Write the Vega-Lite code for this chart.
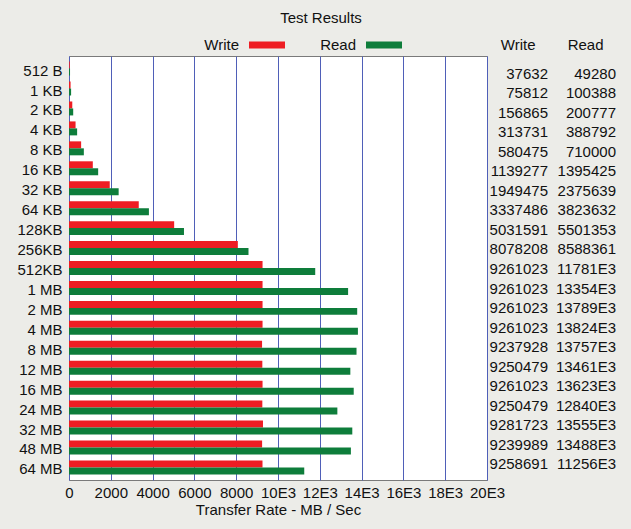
{
  "$schema": "https://vega.github.io/schema/vega-lite/v6.json",
  "background": "#ECECE8",
  "padding": {"left": 16, "top": 10, "right": 15, "bottom": 14},
  "autosize": {"type": "pad"},
  "bounds": "flush",
  "spacing": 61,
  "data": {"values": [
    {"size": "512 B", "series": "Write", "rate": 37.632, "label": "37632"},
    {"size": "512 B", "series": "Read", "rate": 49.28, "label": "49280"},
    {"size": "1 KB", "series": "Write", "rate": 75.812, "label": "75812"},
    {"size": "1 KB", "series": "Read", "rate": 100.388, "label": "100388"},
    {"size": "2 KB", "series": "Write", "rate": 156.865, "label": "156865"},
    {"size": "2 KB", "series": "Read", "rate": 200.777, "label": "200777"},
    {"size": "4 KB", "series": "Write", "rate": 313.731, "label": "313731"},
    {"size": "4 KB", "series": "Read", "rate": 388.792, "label": "388792"},
    {"size": "8 KB", "series": "Write", "rate": 580.475, "label": "580475"},
    {"size": "8 KB", "series": "Read", "rate": 710.0, "label": "710000"},
    {"size": "16 KB", "series": "Write", "rate": 1139.277, "label": "1139277"},
    {"size": "16 KB", "series": "Read", "rate": 1395.425, "label": "1395425"},
    {"size": "32 KB", "series": "Write", "rate": 1949.475, "label": "1949475"},
    {"size": "32 KB", "series": "Read", "rate": 2375.639, "label": "2375639"},
    {"size": "64 KB", "series": "Write", "rate": 3337.486, "label": "3337486"},
    {"size": "64 KB", "series": "Read", "rate": 3823.632, "label": "3823632"},
    {"size": "128KB", "series": "Write", "rate": 5031.591, "label": "5031591"},
    {"size": "128KB", "series": "Read", "rate": 5501.353, "label": "5501353"},
    {"size": "256KB", "series": "Write", "rate": 8078.208, "label": "8078208"},
    {"size": "256KB", "series": "Read", "rate": 8588.361, "label": "8588361"},
    {"size": "512KB", "series": "Write", "rate": 9261.023, "label": "9261023"},
    {"size": "512KB", "series": "Read", "rate": 11781, "label": "11781E3"},
    {"size": "1 MB", "series": "Write", "rate": 9261.023, "label": "9261023"},
    {"size": "1 MB", "series": "Read", "rate": 13354, "label": "13354E3"},
    {"size": "2 MB", "series": "Write", "rate": 9261.023, "label": "9261023"},
    {"size": "2 MB", "series": "Read", "rate": 13789, "label": "13789E3"},
    {"size": "4 MB", "series": "Write", "rate": 9261.023, "label": "9261023"},
    {"size": "4 MB", "series": "Read", "rate": 13824, "label": "13824E3"},
    {"size": "8 MB", "series": "Write", "rate": 9237.928, "label": "9237928"},
    {"size": "8 MB", "series": "Read", "rate": 13757, "label": "13757E3"},
    {"size": "12 MB", "series": "Write", "rate": 9250.479, "label": "9250479"},
    {"size": "12 MB", "series": "Read", "rate": 13461, "label": "13461E3"},
    {"size": "16 MB", "series": "Write", "rate": 9261.023, "label": "9261023"},
    {"size": "16 MB", "series": "Read", "rate": 13623, "label": "13623E3"},
    {"size": "24 MB", "series": "Write", "rate": 9250.479, "label": "9250479"},
    {"size": "24 MB", "series": "Read", "rate": 12840, "label": "12840E3"},
    {"size": "32 MB", "series": "Write", "rate": 9281.723, "label": "9281723"},
    {"size": "32 MB", "series": "Read", "rate": 13555, "label": "13555E3"},
    {"size": "48 MB", "series": "Write", "rate": 9239.989, "label": "9239989"},
    {"size": "48 MB", "series": "Read", "rate": 13488, "label": "13488E3"},
    {"size": "64 MB", "series": "Write", "rate": 9258.691, "label": "9258691"},
    {"size": "64 MB", "series": "Read", "rate": 11256, "label": "11256E3"}
  ]},
  "hconcat": [
    {
      "width": 418,
      "height": 424,
      "title": {"text": "Test Results", "frame": "group", "anchor": "middle", "dx": 43, "fontSize": 15, "fontWeight": "normal", "font": "Liberation Sans", "color": "#111111", "offset": 1},
      "mark": {"type": "bar"},
      "encoding": {
        "y": {
          "field": "size", "type": "ordinal",
          "sort": ["512 B","1 KB","2 KB","4 KB","8 KB","16 KB","32 KB","64 KB","128KB","256KB","512KB","1 MB","2 MB","4 MB","8 MB","12 MB","16 MB","24 MB","32 MB","48 MB","64 MB"],
          "scale": {"paddingInner": 0.3, "paddingOuter": 0.28},
          "axis": {"title": null, "domain": false, "ticks": false, "tickSize": 0, "labelPadding": 7, "labelOffset": 2, "labelFontSize": 15, "labelFont": "Liberation Sans", "labelColor": "#111111", "grid": false}
        },
        "yOffset": {"field": "series", "type": "nominal", "sort": ["Write","Read"], "scale": {"domain": ["Write","Read"], "paddingInner": 0, "paddingOuter": 0}},
        "x": {
          "field": "rate", "type": "quantitative",
          "scale": {"domain": [0, 20000], "nice": false},
          "axis": {
            "title": "Transfer Rate - MB / Sec",
            "values": [0,2000,4000,6000,8000,10000,12000,14000,16000,18000,20000],
            "labelExpr": "datum.value >= 10000 ? (datum.value / 1000) + 'E3' : '' + datum.value",
            "domain": false, "ticks": false, "tickSize": 0,
            "labelPadding": 5, "labelFontSize": 15, "labelFont": "Liberation Sans", "labelColor": "#111111",
            "titleFontSize": 15, "titleFont": "Liberation Sans", "titleFontWeight": "normal", "titleColor": "#111111", "titlePadding": 2,
            "grid": true, "gridColor": "#4F5FB8", "gridOpacity": 1, "gridWidth": 1,
            "labelFlush": false, "labelOverlap": false
          }
        },
        "color": {
          "field": "series", "type": "nominal",
          "scale": {"domain": ["Write","Read"], "range": ["#EE1D23", "#0E7D3B"]},
          "legend": {
            "title": null, "orient": "none", "legendX": 180, "legendY": -29, "direction": "horizontal",
            "symbolType": "M-1,-0.19H1V0.19H-1Z", "symbolSize": 1296, "symbolStrokeWidth": 0, "symbolOpacity": 1,
            "labelAlign": "right", "labelOffset": -46, "labelFontSize": 15, "labelFont": "Liberation Sans", "labelColor": "#111111",
            "columnPadding": 35, "labelLimit": 100
          }
        }
      }
    },
    {
      "width": 68,
      "height": 420,
      "view": {"fill": null, "stroke": null},
      "mark": {"type": "text", "align": "right", "baseline": "middle", "dy": 3, "fontSize": 15, "font": "Liberation Sans", "color": "#111111"},
      "encoding": {
        "x": {
          "field": "series", "type": "nominal",
          "scale": {"type": "point", "domain": ["Write","Read"], "padding": 0},
          "axis": {"orient": "top", "title": null, "domain": false, "ticks": false, "tickSize": 0, "labelAngle": 0, "labelAlign": "right", "labelOffset": -13, "labelPadding": 4, "labelFontSize": 15, "labelFont": "Liberation Sans", "labelColor": "#111111", "grid": false}
        },
        "y": {
          "field": "size", "type": "ordinal",
          "sort": ["512 B","1 KB","2 KB","4 KB","8 KB","16 KB","32 KB","64 KB","128KB","256KB","512KB","1 MB","2 MB","4 MB","8 MB","12 MB","16 MB","24 MB","32 MB","48 MB","64 MB"],
          "scale": {"type": "point", "padding": 0.753},
          "axis": null
        },
        "text": {"field": "label", "type": "nominal"}
      }
    }
  ],
  "resolve": {"scale": {"y": "independent", "x": "independent", "color": "independent"}},
  "config": {
    "view": {"fill": "white", "stroke": "#7A7A7A", "strokeWidth": 1},
    "font": "Liberation Sans"
  }
}
